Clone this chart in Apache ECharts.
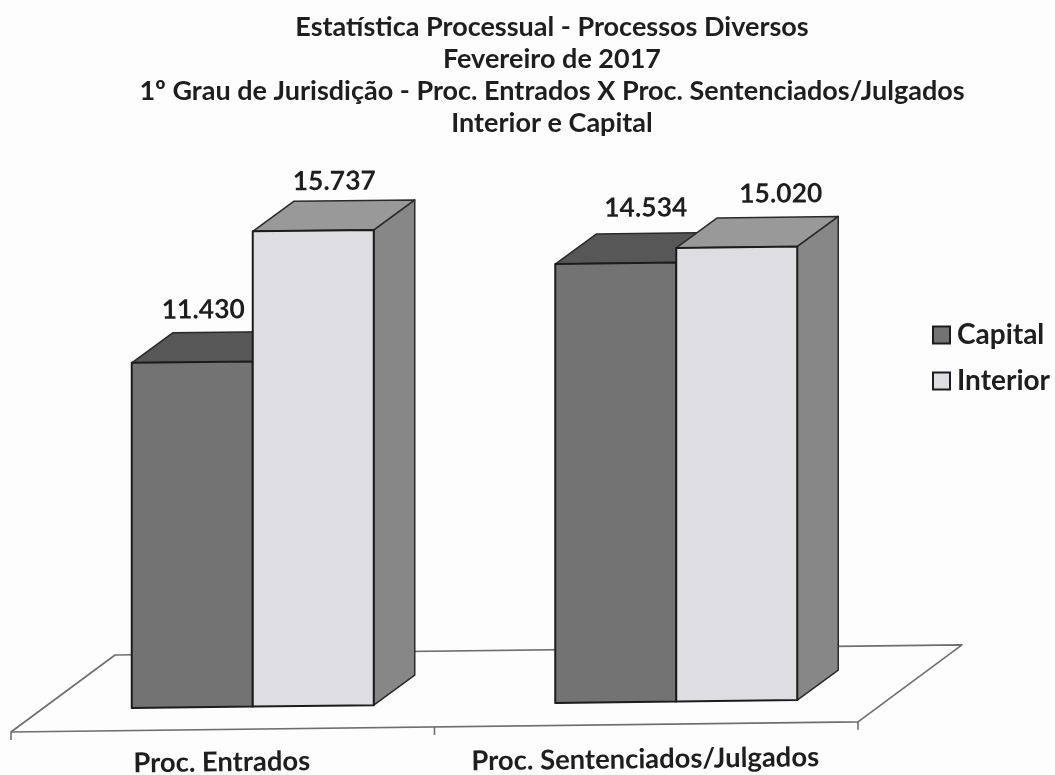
<!DOCTYPE html>
<html>
<head>
<meta charset="utf-8">
<style>html,body{margin:0;padding:0;background:#fdfdfd}#c{width:1055px;height:775px}</style>
<script src="https://cdn.jsdelivr.net/npm/echarts@6/dist/echarts.min.js"></script>
</head>
<body>
<div id="c"></div>
<script>
var categories = ['Proc. Entrados', 'Proc. Sentenciados/Julgados'];
var capitalValues = [11430, 14534];
var interiorValues = [15737, 15020];
var titleText = 'Estatística Processual - Processos Diversos\nFevereiro de 2017\n1º Grau de Jurisdição - Proc. Entrados X Proc. Sentenciados/Julgados\nInterior e Capital';

var FONT = 'Lato, "Open Sans", sans-serif';
var LEFT = 11, BASE = 732;
var TILT = -0.012, LIFT = 22.5, BAR = 121, SHIFT = 30, DX = 41, DY = -30;
var FLOOR_DX = 104, FLOOR_DY = -77;
var labelNudge = {Capital: [[11, -53], [30, -56]], Interior: [[21, -50], [44, -54]]};
var catNudge = [[-1, 33], [-1, 35]];

function fmt(v) { return String(v).replace(/\B(?=(\d{3})+$)/g, '.'); }
function t(x, y) { return [x, y + TILT * (x - LEFT)]; }

function poly(points, fill, stroke, w) {
  return {type: 'polygon', shape: {points: points}, style: {fill: fill, stroke: stroke, lineWidth: w, lineJoin: 'round'}};
}

function barRenderer(name, side, front, top, sideColor) {
  return function (params, api) {
    var idx = api.value(0);
    var v = api.value(1);
    var c = api.coord([idx, 0])[0] + SHIFT;
    var y0 = api.coord([idx, 0])[1] - LIFT;
    var y1 = api.coord([idx, v])[1] - LIFT;
    var xa = side === 0 ? c - BAR : c;
    var xb = xa + BAR;
    var A = t(xa, y1), B = t(xb, y1), C = t(xb, y0), D = t(xa, y0);
    var off = function (p) { return [p[0] + DX, p[1] + DY]; };
    var stroke = '#1c1c1c';
    var n = labelNudge[name][idx];
    return {
      type: 'group',
      children: [
        poly([B, off(B), off(C), C], sideColor, '#2a2a2a', 1.5),
        poly([A, off(A), off(B), B], top, '#2a2a2a', 1.5),
        poly([A, B, C, D], front, stroke, 2),
        {type: 'text', x: (xa + xb) / 2 + n[0], y: A[1] + n[1], rotation: 0.006,
          style: {text: fmt(v), font: 'bold 26.5px ' + FONT, fill: '#1e1e1e', align: 'center', verticalAlign: 'middle'}}
      ]
    };
  };
}

function floorRenderer(params, api) {
  var idx = api.value(0);
  var band = api.size([1, 0])[0];
  var c = api.coord([idx, 0])[0];
  var y = api.coord([idx, 0])[1];
  var kids = [];
  var lineStyle = {stroke: '#6e6e6e', lineWidth: 1.6, fill: null};
  if (idx === 0) {
    var a = t(c - band / 2, y);
    var b = t(c + band * 1.5, y);
    kids.push(poly([a, [a[0] + FLOOR_DX, a[1] + FLOOR_DY], [b[0] + FLOOR_DX, b[1] + FLOOR_DY], b], '#fdfdfd', '#6e6e6e', 1.6));
    var p0 = t(c - band / 2, y);
    kids.push({type: 'line', shape: {x1: p0[0], y1: p0[1], x2: p0[0], y2: p0[1] + 8}, style: lineStyle});
  }
  var p = t(c + band / 2, y);
  kids.push({type: 'line', shape: {x1: p[0], y1: p[1], x2: p[0], y2: p[1] + 8}, style: lineStyle});
  var lp = t(c, y);
  var n = catNudge[idx];
  kids.push({type: 'text', x: lp[0] + n[0], y: lp[1] + n[1], rotation: 0.012,
    style: {text: categories[idx], font: 'bold 27.4px ' + FONT, fill: '#1e1e1e', align: 'center', verticalAlign: 'middle'}});
  return {type: 'group', children: kids};
}

var chart = echarts.init(document.getElementById('c'), null, {renderer: 'canvas'});
chart.setOption({
  animation: false,
  backgroundColor: '#fdfdfd',
  title: {
    text: titleText, left: 547, top: 6, textAlign: 'center',
    textStyle: {fontFamily: FONT, fontWeight: 'bold', fontSize: 27, lineHeight: 32, color: '#1e1e1e'}
  },
  legend: {
    data: [{name: 'Capital', icon: 'rect'}, {name: 'Interior', icon: 'rect'}],
    orient: 'vertical', left: 927, top: 316,
    itemWidth: 17, itemHeight: 17, itemGap: 18,
    textStyle: {fontFamily: FONT, fontWeight: 'bold', fontSize: 28, color: '#1e1e1e', padding: [0, 0, 0, 2]}
  },
  grid: {left: LEFT, top: 128, width: 847, height: 604},
  xAxis: {type: 'category', data: categories, show: false},
  yAxis: {type: 'value', min: 0, max: 20000, show: false},
  series: [
    {name: 'Piso', type: 'custom', silent: true, z: 1, renderItem: floorRenderer,
      encode: {x: 0, y: 1}, data: categories.map(function (c, i) { return [i, 0]; })},
    {name: 'Capital', type: 'custom', z: 2, silent: true,
      itemStyle: {color: '#737373', borderColor: '#1c1c1c', borderWidth: 2},
      renderItem: barRenderer('Capital', 0, '#737373', '#575757', '#585858'),
      encode: {x: 0, y: 1}, data: capitalValues.map(function (v, i) { return [i, v]; })},
    {name: 'Interior', type: 'custom', z: 3, silent: true,
      itemStyle: {color: '#dedee2', borderColor: '#1c1c1c', borderWidth: 2},
      renderItem: barRenderer('Interior', 1, '#dedee2', '#999999', '#878787'),
      encode: {x: 0, y: 1}, data: interiorValues.map(function (v, i) { return [i, v]; })}
  ]
});
</script>
</body>
</html>
